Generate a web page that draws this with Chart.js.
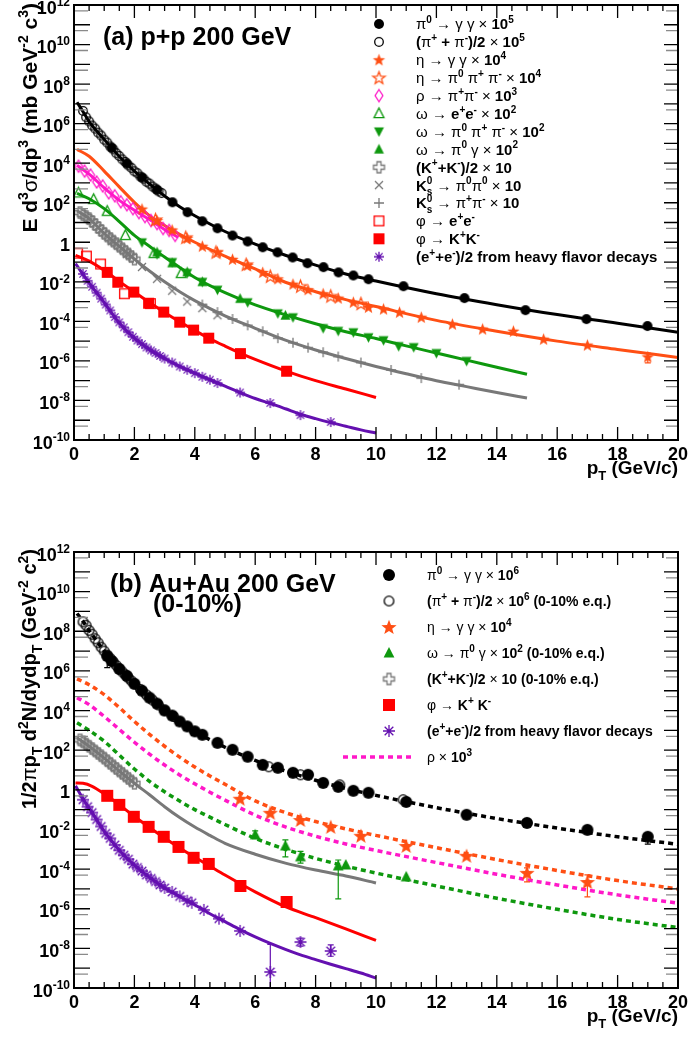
<!DOCTYPE html>
<html>
<head>
<meta charset="utf-8">
<script src="https://cdn.jsdelivr.net/npm/chart.js@4.4.0/dist/chart.umd.min.js"></script>
<style>
  body { margin: 0; background: #fff; }
  #wrap { position: relative; width: 692px; height: 1040px; }
  canvas { position: absolute; left: 0; }
</style>
</head>
<body>
<div id="wrap">
  <canvas id="pp" width="692" height="520" style="top:0"></canvas>
  <canvas id="au" width="692" height="520" style="top:520px"></canvas>
</div>
<script>
// ---------- (a) p+p 200 GeV ----------
const ppPiFitX = [0.1, 0.3, 0.5, 1, 1.5, 2, 2.5, 3, 3.5, 4, 5, 6, 7, 8, 9, 10, 12, 14, 16, 18, 20];
const ppPiFitY = [1.2e7, 4.0e6, 1.26e6, 1.6e5, 2.2e4, 4.0e3, 900, 220, 63, 22, 3.5, 0.8, 0.22, 0.07, 0.025, 0.011, 2.5e-3, 7.0e-4, 2.2e-4, 8.0e-5, 2.8e-5];
const ppPi0X = [1.25, 1.75, 2.25, 2.75, 3.26, 3.76, 4.25, 4.75, 5.25, 5.75, 6.25, 6.74, 7.24, 7.73, 8.26, 8.76, 9.25, 9.75, 10.91, 12.93, 14.95, 16.97, 18.99];
const ppPi0Y = [6.0e4, 9.5e3, 1.9e3, 450, 105, 33, 11.5, 5.1, 2.2, 1.1, 0.56, 0.31, 0.17, 0.087, 0.055, 0.030, 0.021, 0.0135, 6.0e-3, 1.5e-3, 3.7e-4, 1.3e-4, 5.8e-5];
const ppPipmX = [0.3, 0.4, 0.5, 0.6, 0.7, 0.8, 0.9, 1.0, 1.1, 1.2, 1.3, 1.4, 1.5, 1.6, 1.7, 1.8, 1.9, 2.0, 2.1, 2.2, 2.3, 2.4, 2.5, 2.6, 2.7, 2.8, 2.9];
const ppPipmY = [4.4e6, 2.1e6, 1.3e6, 8.0e5, 5.6e5, 3.5e5, 2.5e5, 1.55e5, 1.1e5, 7.0e4, 5.0e4, 3.2e4, 2.3e4, 1.55e4, 1.15e4, 7.8e3, 5.8e3, 3.9e3, 3.1e3, 2.1e3, 1.65e3, 1.15e3, 920, 660, 520, 380, 310];

const ppEtaFitX = [0.1, 0.5, 1, 1.5, 2, 2.5, 3, 3.5, 4, 5, 6, 7, 8, 9, 10, 12, 14, 16, 18, 20];
const ppEtaFitY = [5.0e4, 2.24e4, 3.98e3, 631, 105, 22.4, 7.08, 2.51, 1.0, 0.2, 0.0447, 9.5e-3, 3.16e-3, 1.26e-3, 5.6e-4, 1.12e-4, 3.16e-5, 1.0e-5, 3.8e-6, 1.5e-6];
const ppEtaX = [2.25, 2.75, 3.25, 3.75, 4.25, 4.75, 5.25, 5.75, 6.25, 6.75, 7.25, 7.75, 8.25, 8.75, 9.25, 9.75, 10.25, 10.78, 11.5, 12.53, 13.53, 14.55, 15.55, 17.0, 19.0];
const ppEtaY = [48, 12.6, 4.2, 1.6, 0.63, 0.32, 0.138, 0.069, 0.030, 0.0141, 7.6e-3, 4.0e-3, 2.5e-3, 1.5e-3, 9.3e-4, 5.2e-4, 4.2e-4, 2.9e-4, 1.62e-4, 7.2e-5, 4.1e-5, 3.2e-5, 1.26e-5, 6.3e-6, 1.6e-6];
const ppEtaLo = [null, null, null, null, null, null, null, null, null, null, null, null, null, null, null, null, null, null, null, null, null, null, null, null, 8.0e-7];
const ppEtaHi = [null, null, null, null, null, null, null, null, null, null, null, null, null, null, null, null, null, null, null, null, null, null, null, null, 2.5e-6];
const ppEta3piX = [2.7, 3.7, 4.7, 5.7, 6.5, 7.5, 8.5, 9.5];
const ppEta3piY = [14.1, 1.78, 0.316, 0.0759, 0.019, 6.03e-3, 1.91e-3, 7.94e-4];

const ppRhoFitX = [0.1, 0.5, 1, 1.5, 2, 2.5, 3, 3.45];
const ppRhoFitY = [7.8e3, 2.8e3, 562, 132, 41.7, 14.1, 4.47, 1.78];
const ppRhoX = [0.15, 0.35, 0.55, 0.75, 0.95, 1.15, 1.35, 1.55, 1.75, 1.95, 2.15, 2.35, 2.55, 2.75, 2.95, 3.15, 3.35];
const ppRhoY = [7080, 3980, 2510, 1120, 708, 316, 224, 112, 79.4, 50.1, 31.6, 20, 12.6, 8.9, 5.0, 3.98, 2.24];

const ppOmegaFitX = [0.1, 0.5, 1, 1.5, 2, 2.5, 3, 3.5, 4, 5, 6, 7, 8, 9, 10, 11, 12, 13, 14, 15];
const ppOmegaFitY = [295, 158, 50.1, 11.2, 2.24, 0.63, 0.178, 0.0537, 0.0166, 2.82e-3, 6.76e-4, 2.14e-4, 7.6e-5, 3.0e-5, 1.35e-5, 5.75e-6, 2.51e-6, 1.1e-6, 4.8e-7, 2.1e-7];
const ppOmegaEeX = [0.15, 0.65, 1.1, 1.7, 2.65, 3.55];
const ppOmegaEeY = [316, 148, 37.2, 2.24, 0.275, 0.0269];
const ppOmega3piX = [2.25, 2.75, 3.25, 3.75, 4.25, 4.75, 5.75, 6.75, 7.25, 8.25, 8.75, 9.25, 9.75, 10.25, 10.75, 11.25, 12.0, 13.0];
const ppOmega3piY = [1.0, 0.25, 0.1, 0.0282, 0.01, 3.98e-3, 9.3e-4, 2.57e-4, 1.62e-4, 4.57e-5, 3.31e-5, 2.82e-5, 1.58e-5, 1.12e-5, 5.6e-6, 5.0e-6, 2.51e-6, 1.0e-6];
const ppOmegaPgX = [2.75, 3.25, 3.75, 4.25, 5.5, 7.0];
const ppOmegaPgY = [0.316, 0.089, 0.0316, 0.01, 1.41e-3, 2.0e-4];

const ppKaonFitX = [0.1, 0.5, 1, 1.5, 2, 2.5, 3, 3.5, 4, 5, 6, 7, 8, 9, 10, 11, 12, 13, 14, 15];
const ppKaonFitY = [39.8, 15.8, 2.82, 0.63, 0.141, 0.0355, 0.01, 3.16e-3, 1.12e-3, 1.9e-4, 4.47e-5, 1.12e-5, 3.55e-6, 1.32e-6, 5.25e-7, 2.24e-7, 1.0e-7, 5.0e-8, 2.51e-8, 1.32e-8];
const ppKpmX = [0.2, 0.3, 0.4, 0.5, 0.6, 0.7, 0.8, 0.9, 1.0, 1.1, 1.2, 1.3, 1.4, 1.5, 1.6, 1.7, 1.8, 1.9, 2.0];
const ppKpmY = [31.6, 25.1, 20, 15.8, 11.2, 7.94, 5.62, 3.98, 2.82, 2.09, 1.55, 1.15, 0.85, 0.63, 0.468, 0.347, 0.257, 0.19, 0.141];
const ppKs00X = [1.25, 1.75, 2.25, 2.75, 3.25, 3.75, 4.25, 4.75];
const ppKs00Y = [1.12, 0.251, 0.0562, 0.0141, 3.55e-3, 1.0e-3, 4.68e-4, 2.04e-4];
const ppKsPmX = [4.25, 4.75, 5.25, 5.75, 6.25, 6.75, 7.25, 7.75, 8.25, 8.75, 9.5, 10.5, 11.5, 12.75];
const ppKsPmY = [7.08e-4, 2.95e-4, 1.32e-4, 6.31e-5, 3.16e-5, 1.41e-5, 8.3e-6, 4.68e-6, 2.75e-6, 1.66e-6, 8.3e-7, 3.47e-7, 1.35e-7, 6.31e-8];

const ppPhiFitX = [0.05, 0.5, 1.1, 1.5, 2, 2.5, 3, 3.5, 4, 4.5, 5, 5.5, 6, 7, 8, 9, 10];
const ppPhiFitY = [0.219, 0.112, 0.0302, 0.0105, 3.02e-3, 8.9e-4, 2.82e-4, 9.55e-5, 3.47e-5, 1.32e-5, 5.62e-6, 2.51e-6, 1.2e-6, 3.16e-7, 1.0e-7, 3.8e-8, 1.41e-8];
const ppPhiKKX = [1.1, 1.45, 1.98, 2.47, 2.97, 3.5, 3.96, 4.46, 5.51, 7.04];
const ppPhiKKY = [0.0302, 9.55e-3, 3.02e-3, 8.3e-4, 2.95e-4, 9.1e-5, 3.63e-5, 1.41e-5, 2.34e-6, 3.02e-7];
const ppPhiEeX = [0.12, 0.41, 0.88, 1.67, 2.53];
const ppPhiEeY = [0.282, 0.2, 0.0794, 2.51e-3, 7.94e-4];

const ppHfFitX = [0.05, 0.5, 1, 1.5, 2, 2.5, 3, 3.5, 4, 4.5, 5, 5.5, 6, 6.5, 7, 7.5, 8, 8.5, 9, 9.5, 10];
const ppHfFitY = [0.0832, 8.9e-3, 8.9e-4, 8.3e-5, 1.41e-5, 3.8e-6, 1.32e-6, 5.25e-7, 2.4e-7, 1.12e-7, 5.25e-8, 2.51e-8, 1.26e-8, 7.08e-9, 3.8e-9, 2.0e-9, 1.2e-9, 7.59e-10, 5.0e-10, 3.24e-10, 2.24e-10];
const ppHfX = [0.3, 0.45, 0.6, 0.75, 0.9, 1.05, 1.2, 1.35, 1.5, 1.65, 1.8, 1.95, 2.1, 2.25, 2.4, 2.55, 2.7, 2.85, 3.0, 3.25, 3.5, 3.75, 4.0, 4.25, 4.5, 4.75, 5.5, 6.5, 7.5, 8.5];
const ppHfY = [0.0251, 0.0112, 5.62e-3, 2.82e-3, 1.41e-3, 7.08e-4, 3.55e-4, 1.66e-4, 8.9e-5, 5.0e-5, 2.82e-5, 1.66e-5, 1.07e-5, 7.08e-6, 4.79e-6, 3.39e-6, 2.51e-6, 1.78e-6, 1.32e-6, 8.3e-7, 5.25e-7, 3.55e-7, 2.4e-7, 1.58e-7, 1.12e-7, 7.59e-8, 2.51e-8, 7.41e-9, 1.82e-9, 8.1e-10];

// ---------- (b) Au+Au 200 GeV (0-10%) ----------
const auPiFitX = [0.1, 0.3, 0.5, 1, 1.5, 2, 2.5, 3, 3.5, 4, 5, 6, 7, 8, 9, 10, 12, 14, 16, 18, 20];
const auPiFitY = [7.94e8, 3.16e8, 1.12e8, 1.0e7, 1.26e6, 2.24e5, 4.47e4, 1.07e4, 2.95e3, 891, 141, 30.2, 8.91, 3.02, 1.17, 0.525, 0.126, 0.0355, 0.0117, 4.27e-3, 1.78e-3];
const auPi0X = [1.1, 1.25, 1.5, 1.75, 2.0, 2.25, 2.5, 2.75, 3.0, 3.25, 3.5, 3.75, 4.0, 4.25, 4.75, 5.25, 5.75, 6.25, 6.75, 7.25, 7.75, 8.25, 8.75, 9.25, 9.75, 11.0, 13.0, 15.0, 17.0, 19.0];
const auPi0Y = [5.6e6, 3.16e6, 1.26e6, 5.62e5, 2.24e5, 1.0e5, 4.47e4, 2.24e4, 1.0e4, 5.62e3, 2.82e3, 1.58e3, 891, 600, 234, 105, 46.8, 18.2, 12.9, 7.24, 5.75, 2.24, 1.41, 0.891, 0.708, 0.245, 0.055, 0.0214, 9.55e-3, 4.27e-3];
const auPi0Lo = [1.45e6, null, null, null, null, null, null, null, null, null, null, null, null, null, null, null, null, null, null, null, null, null, null, null, null, null, null, null, null, 1.8e-3];
const auPi0Hi = [8.3e6, null, null, null, null, null, null, null, null, null, null, null, null, null, null, null, null, null, null, null, null, null, null, null, null, null, null, null, null, 6.3e-3];
const auPipmX = [0.3, 0.4, 0.5, 0.6, 0.7, 0.8, 0.9, 1.0, 1.1, 1.2, 1.3, 1.4, 1.5, 1.6, 1.7, 1.8, 1.9, 2.0, 2.2, 2.4, 2.6, 2.8, 3.0, 3.3, 6.45, 7.5, 8.8, 10.9];
const auPipmY = [3.0e8, 2.0e8, 1.12e8, 7.08e7, 4.17e7, 2.63e7, 1.58e7, 1.0e7, 6.31e6, 4.27e6, 2.82e6, 1.91e6, 1.26e6, 8.9e5, 6.31e5, 4.47e5, 3.16e5, 2.24e5, 1.17e5, 6.17e4, 3.39e4, 1.91e4, 1.07e4, 5.01e3, 14.5, 5.75, 1.78, 0.316];

const auFitX = [0.1, 0.5, 1, 1.5, 2, 2.5, 3, 3.5, 4, 4.5, 5, 6, 7, 8, 9, 10, 12, 14, 16, 18, 20];
const auEtaFitY = [3.98e5, 2.0e5, 6.31e4, 1.41e4, 2.82e3, 631, 158, 44.7, 14.1, 5.01, 1.91, 0.275, 0.0708, 0.0251, 0.0107, 5.01e-3, 1.2e-3, 3.02e-4, 8.51e-5, 2.63e-5, 1.0e-5];
const auRhoFitY = [4.47e4, 2.0e4, 5.01e3, 1.12e3, 251, 63.1, 17.8, 5.62, 2.0, 0.759, 0.302, 0.0525, 0.0135, 4.57e-3, 1.86e-3, 8.71e-4, 2.14e-4, 5.5e-5, 1.58e-5, 5.01e-6, 1.91e-6];
const auOmegaFitY = [2.4e3, 1.0e3, 282, 56.2, 11.2, 2.69, 0.794, 0.269, 0.1, 0.0417, 0.0178, 3.55e-3, 1.0e-3, 3.47e-4, 1.41e-4, 6.31e-5, 1.41e-5, 3.39e-6, 9.33e-7, 2.88e-7, 1.12e-7];
const auEtaX = [5.5, 6.5, 7.5, 8.5, 9.5, 11, 13, 15, 17];
const auEtaY = [0.355, 0.0692, 0.0302, 0.0135, 4.79e-3, 1.48e-3, 4.68e-4, 6.46e-5, 2.24e-5];
const auEtaLo = [null, null, null, null, null, null, null, 2.24e-5, 4.0e-6];
const auEtaHi = [null, null, null, null, null, null, null, 1.15e-4, 5.1e-5];
const auOmegaX = [6.0, 7.0, 7.5, 8.75, 9.0, 11.0];
const auOmegaY = [5.37e-3, 1.48e-3, 4.17e-4, 1.45e-4, 1.62e-4, 4.07e-5];
const auOmegaLo = [3.4e-3, 4.17e-4, 2.0e-4, 3.16e-6, null, null];
const auOmegaHi = [8.5e-3, 2.95e-3, 7.9e-4, 2.88e-4, null, null];

const auKaonFitX = [0.1, 0.5, 1, 1.5, 2, 2.5, 3, 3.5, 4, 4.5, 5, 6, 7, 8, 9, 10];
const auKaonFitY = [427, 158, 39.8, 8.91, 2.14, 0.562, 0.141, 0.0398, 0.0132, 5.01e-3, 2.0e-3, 5.62e-4, 2.0e-4, 8.91e-5, 4.47e-5, 2.0e-5];
const auKpmX = [0.2, 0.3, 0.4, 0.5, 0.6, 0.7, 0.8, 0.9, 1.0, 1.1, 1.2, 1.3, 1.4, 1.5, 1.6, 1.7, 1.8, 1.9, 2.0];
const auKpmY = [331, 263, 204, 158, 120, 91.2, 69.2, 52.5, 39.8, 29.5, 21.9, 16.2, 12.0, 8.91, 6.76, 5.01, 3.8, 2.82, 2.14];

const auPhiFitX = [0.05, 0.3, 0.6, 1, 1.5, 2, 2.5, 3, 3.5, 4, 4.5, 5, 6, 7, 8, 9, 10];
const auPhiFitY = [2.24, 2.14, 1.51, 0.631, 0.178, 0.0447, 0.0126, 3.72e-3, 1.17e-3, 3.98e-4, 1.41e-4, 5.01e-5, 7.08e-6, 1.26e-6, 3.55e-7, 9.55e-8, 2.51e-8];
const auPhiX = [1.1, 1.5, 1.98, 2.47, 2.97, 3.46, 3.96, 4.46, 5.51, 7.04];
const auPhiY = [0.501, 0.174, 0.0437, 0.0135, 4.27e-3, 1.32e-3, 3.72e-4, 1.82e-4, 1.41e-5, 2.19e-6];

const auHfFitX = [0.05, 0.3, 0.6, 1, 1.5, 2, 2.5, 3, 3.5, 4, 4.5, 5, 5.5, 6, 6.5, 7, 7.5, 8, 8.5, 9, 9.5, 10];
const auHfFitY = [1.58, 0.355, 0.0708, 7.94e-3, 8.91e-4, 1.58e-4, 3.8e-5, 1.12e-5, 4.17e-6, 1.58e-6, 5.62e-7, 2.24e-7, 8.91e-8, 3.8e-8, 1.78e-8, 8.91e-9, 4.68e-9, 2.69e-9, 1.58e-9, 9.55e-10, 5.75e-10, 3.16e-10];
const auHfX = [0.3, 0.45, 0.6, 0.75, 0.9, 1.05, 1.2, 1.35, 1.5, 1.65, 1.8, 1.95, 2.1, 2.25, 2.4, 2.55, 2.7, 2.85, 3.0, 3.25, 3.5, 3.75, 3.9, 4.3, 4.8, 5.5, 6.5, 7.5, 8.5];
const auHfY = [0.316, 0.141, 0.0708, 0.0316, 0.0141, 6.31e-3, 3.55e-3, 1.66e-3, 8.91e-4, 5.01e-4, 3.16e-4, 1.78e-4, 1.2e-4, 7.94e-5, 5.01e-5, 3.39e-5, 2.34e-5, 1.58e-5, 1.12e-5, 7.08e-6, 4.17e-6, 2.51e-6, 2.0e-6, 8.71e-7, 3.16e-7, 7.59e-8, 6.46e-10, 2.09e-8, 7.41e-9];
const auHfLo = [null, null, null, null, null, null, null, null, null, null, null, null, null, null, null, null, null, null, null, null, null, null, null, null, null, null, 1e-11, 1.3e-8, 4.0e-9];
const auHfHi = [null, null, null, null, null, null, null, null, null, null, null, null, null, null, null, null, null, null, null, null, null, null, null, null, null, null, 1.58e-8, 3.3e-8, 1.5e-8];

// ---------- styles ----------
const FONT = '"Liberation Sans", Arial, Helvetica, sans-serif';
const THIN = 'πγηρωφσ→×';
const BLACK = '#000000', ORANGE = '#ff4f14', MAGENTA = '#ff18c8', GREEN = '#0e980e',
      GRAY = '#787878', RED = '#ff0000', PURPLE = '#6410b0';

function makeMarker(kind, color, size) {
  const s = Math.ceil(size + 4);
  const c = document.createElement('canvas');
  c.width = s; c.height = s;
  const g = c.getContext('2d');
  const m = s / 2, r = size / 2;
  g.fillStyle = color; g.strokeStyle = color; g.lineWidth = 1.3;
  g.beginPath();
  if (kind === 'circle') { g.arc(m, m, r, 0, 2 * Math.PI); g.fill(); }
  else if (kind === 'ocircle') { g.arc(m, m, r - 0.7, 0, 2 * Math.PI); g.stroke(); }
  else if (kind === 'square') { g.fillRect(m - r, m - r, size, size); }
  else if (kind === 'osquare') { g.strokeRect(m - r + 0.7, m - r + 0.7, size - 1.4, size - 1.4); }
  else if (kind === 'star' || kind === 'ostar') {
    for (let i = 0; i < 10; i++) {
      const a = -Math.PI / 2 + i * Math.PI / 5, rr = i % 2 ? r * 0.42 : r;
      g.lineTo(m + rr * Math.cos(a), m + rr * Math.sin(a) + r * 0.08);
    }
    g.closePath();
    if (kind === 'star') g.fill(); else g.stroke();
  } else if (kind === 'tri' || kind === 'otri') {
    g.moveTo(m, m - r); g.lineTo(m + r * 0.9, m + r * 0.75); g.lineTo(m - r * 0.9, m + r * 0.75); g.closePath();
    if (kind === 'tri') g.fill(); else g.stroke();
  } else if (kind === 'tridown') {
    g.moveTo(m - r * 0.9, m - r * 0.75); g.lineTo(m + r * 0.9, m - r * 0.75); g.lineTo(m, m + r); g.closePath(); g.fill();
  } else if (kind === 'odiamond') {
    g.moveTo(m, m - r); g.lineTo(m + r * 0.65, m); g.lineTo(m, m + r); g.lineTo(m - r * 0.65, m); g.closePath(); g.stroke();
  } else if (kind === 'ocross') {
    const w = r * 0.36;
    g.moveTo(m - w, m - r); g.lineTo(m + w, m - r); g.lineTo(m + w, m - w); g.lineTo(m + r, m - w);
    g.lineTo(m + r, m + w); g.lineTo(m + w, m + w); g.lineTo(m + w, m + r); g.lineTo(m - w, m + r);
    g.lineTo(m - w, m + w); g.lineTo(m - r, m + w); g.lineTo(m - r, m - w); g.lineTo(m - w, m - w);
    g.closePath(); g.stroke();
  } else if (kind === 'x') {
    const d = r * 0.8;
    g.moveTo(m - d, m - d); g.lineTo(m + d, m + d); g.moveTo(m + d, m - d); g.lineTo(m - d, m + d); g.stroke();
  } else if (kind === 'plus') {
    g.moveTo(m - r, m); g.lineTo(m + r, m); g.moveTo(m, m - r); g.lineTo(m, m + r); g.stroke();
  } else if (kind === 'aster') {
    const d = r * 0.72;
    g.moveTo(m - r, m); g.lineTo(m + r, m); g.moveTo(m, m - r); g.lineTo(m, m + r);
    g.moveTo(m - d, m - d); g.lineTo(m + d, m + d); g.moveTo(m + d, m - d); g.lineTo(m - d, m + d); g.stroke();
  }
  return c;
}

function pts(xs, ys) { return xs.map((x, i) => ({ x: x, y: ys[i] })); }

function curve(xs, ys, color, dashed) {
  return {
    data: pts(xs, ys), showLine: true, borderColor: color, borderWidth: dashed ? 3.5 : 3,
    borderDash: dashed ? [5, 4] : [], pointRadius: 0, pointHoverRadius: 0,
    cubicInterpolationMode: 'monotone', fill: false, order: 2
  };
}

function marks(xs, ys, img, color, lo, hi) {
  return {
    data: pts(xs, ys), showLine: false, pointStyle: img, pointRadius: 4,
    borderColor: color, backgroundColor: color, order: 1, errLo: lo, errHi: hi
  };
}

// ---------- rich text (superscripts / subscripts) ----------
function parseRich(str) {
  const toks = [];
  let i = 0, buf = '';
  while (i < str.length) {
    const c = str[i];
    if ((c === '^' || c === '_') && str[i + 1] === '{') {
      if (buf) { toks.push({ k: 'n', s: buf }); buf = ''; }
      const j = str.indexOf('}', i);
      toks.push({ k: c === '^' ? 'sup' : 'sub', s: str.slice(i + 2, j) });
      i = j + 1;
    } else { buf += c; i++; }
  }
  if (buf) toks.push({ k: 'n', s: buf });
  return toks;
}

function runs(text) {
  const out = [];
  for (const ch of text) {
    const b = !THIN.includes(ch);
    if (out.length && out[out.length - 1].b === b) out[out.length - 1].s += ch;
    else out.push({ s: ch, b: b });
  }
  return out;
}

function drawRich(ctx, str, x, y, size, align, color) {
  const toks = parseRich(str);
  const ops = [];
  let cx = 0, supStart = 0;
  toks.forEach((t, i) => {
    const sz = t.k === 'n' ? size : Math.round(size * 0.68);
    const dy = t.k === 'sup' ? -size * 0.42 : (t.k === 'sub' ? size * 0.3 : 0);
    let start = cx;
    if (t.k === 'sub' && i > 0 && toks[i - 1].k === 'sup') start = supStart;
    let px = start;
    runs(t.s).forEach(r => {
      const f = (r.b ? 'bold ' : '') + sz + 'px ' + FONT;
      ctx.font = f;
      ops.push({ s: r.s, f: f, x: px, dy: dy });
      px += ctx.measureText(r.s).width;
    });
    if (t.k === 'sup') supStart = start;
    cx = Math.max(cx, px);
  });
  const x0 = align === 'right' ? x - cx : (align === 'center' ? x - cx / 2 : x);
  ctx.fillStyle = color || '#000';
  ctx.textAlign = 'left';
  ctx.textBaseline = 'alphabetic';
  ops.forEach(o => { ctx.font = o.f; ctx.fillText(o.s, x0 + o.x, y + o.dy); });
}

// ---------- plugins ----------
const errorBars = {
  id: 'errorBars',
  afterDatasetsDraw(chart) {
    const { ctx, chartArea: a, scales: { x, y } } = chart;
    ctx.save();
    ctx.beginPath(); ctx.rect(a.left, a.top, a.right - a.left, a.bottom - a.top); ctx.clip();
    chart.data.datasets.forEach(ds => {
      if (!ds.errLo) return;
      ctx.strokeStyle = ds.borderColor; ctx.lineWidth = 1.2;
      ds.data.forEach((p, i) => {
        if (ds.errLo[i] == null) return;
        const px = x.getPixelForValue(p.x);
        const y1 = y.getPixelForValue(ds.errLo[i]), y2 = y.getPixelForValue(ds.errHi[i]);
        ctx.beginPath();
        ctx.moveTo(px, y1); ctx.lineTo(px, y2);
        ctx.moveTo(px - 3, y1); ctx.lineTo(px + 3, y1);
        ctx.moveTo(px - 3, y2); ctx.lineTo(px + 3, y2);
        ctx.stroke();
      });
    });
    ctx.restore();
  }
};

function framePlugin(deco) {
  return {
    id: 'frame',
    afterDraw(chart) {
      const { ctx, chartArea: a, scales: { x, y } } = chart;
      ctx.save();
      ctx.lineCap = 'butt';
      // x ticks (bottom and top)
      for (let i = 0; i <= 40; i++) {
        const v = i / 2, px = x.getPixelForValue(v);
        const len = i % 4 === 0 ? 13 : 6;
        ctx.strokeStyle = '#000'; ctx.lineWidth = 1.3;
        ctx.beginPath();
        ctx.moveTo(px, a.bottom); ctx.lineTo(px, a.bottom - len);
        ctx.moveTo(px, a.top); ctx.lineTo(px, a.top + len);
        ctx.stroke();
      }
      // y ticks (left and right)
      for (let e = -10; e <= 12; e++) {
        const py = y.getPixelForValue(Math.pow(10, e));
        ctx.strokeStyle = '#000'; ctx.lineWidth = 1.3;
        ctx.beginPath();
        ctx.moveTo(a.left, py); ctx.lineTo(a.left + 16, py);
        ctx.moveTo(a.right, py); ctx.lineTo(a.right - 14, py);
        ctx.stroke();
        if (e > -10) {
          const ph = y.getPixelForValue(5 * Math.pow(10, e - 1));
          ctx.strokeStyle = '#8a8a8a';
          ctx.beginPath();
          ctx.moveTo(a.left, ph); ctx.lineTo(a.left + 14, ph);
          ctx.moveTo(a.right, ph); ctx.lineTo(a.right - 12, ph);
          ctx.stroke();
        }
      }
      // frame
      ctx.strokeStyle = '#000'; ctx.lineWidth = 2;
      ctx.strokeRect(a.left, a.top, a.right - a.left, a.bottom - a.top);
      // y labels
      for (let e = -10; e <= 12; e += 2) {
        const py = y.getPixelForValue(Math.pow(10, e));
        drawRich(ctx, e === 0 ? '1' : '10^{' + e + '}', a.left - 4, py + 8.5, 18, 'right');
      }
      // x labels
      for (let v = 0; v <= 20; v += 2) {
        drawRich(ctx, String(v), x.getPixelForValue(v), a.bottom + 20, 18, 'center');
      }
      // axis titles
      drawRich(ctx, 'p_{T} (GeV/c)', a.right, a.bottom + 34, 19, 'right');
      ctx.save();
      ctx.translate(deco.yTitleX, deco.yTitleTop);
      ctx.rotate(-Math.PI / 2);
      drawRich(ctx, deco.yTitle, 0, 0, deco.yTitleSize, 'right');
      ctx.restore();
      // panel label
      deco.labels.forEach(l => drawRich(ctx, l.t, l.x, l.y, l.size, 'left'));
      // legend
      deco.legend.forEach((it, i) => {
        const ry = deco.legY + i * deco.legDy;
        if (it.dash) {
          ctx.strokeStyle = it.dash; ctx.lineWidth = 3.5; ctx.setLineDash([5, 4]);
          ctx.beginPath(); ctx.moveTo(deco.legDashX0, ry); ctx.lineTo(deco.legDashX1, ry); ctx.stroke();
          ctx.setLineDash([]);
        } else {
          ctx.drawImage(it.m, deco.legMarkX - it.m.width / 2, ry - it.m.height / 2);
        }
        drawRich(ctx, it.t, deco.legTextX, ry + deco.legSize * 0.36, deco.legSize, 'left');
      });
      ctx.restore();
    }
  };
}

function build(id, datasets, padding, deco) {
  return new Chart(document.getElementById(id), {
    type: 'scatter',
    data: { datasets: datasets },
    options: {
      responsive: false, animation: false, devicePixelRatio: 1,
      layout: { padding: padding },
      plugins: { legend: { display: false }, tooltip: { enabled: false } },
      events: [],
      scales: {
        x: { type: 'linear', min: 0, max: 20, display: false },
        y: { type: 'logarithmic', min: 1e-10, max: 1e12, display: false }
      }
    },
    plugins: [errorBars, framePlugin(deco)]
  });
}

// ---------- panel (a) ----------
const mA = {
  pi0: makeMarker('circle', BLACK, 10), pipm: makeMarker('ocircle', BLACK, 10),
  eta: makeMarker('star', ORANGE, 13), eta3: makeMarker('ostar', ORANGE, 13),
  rho: makeMarker('odiamond', MAGENTA, 12), omee: makeMarker('otri', GREEN, 11),
  om3: makeMarker('tridown', GREEN, 11), ompg: makeMarker('tri', GREEN, 11),
  kpm: makeMarker('ocross', GRAY, 11), ks00: makeMarker('x', GRAY, 10), kspm: makeMarker('plus', GRAY, 10),
  phee: makeMarker('osquare', RED, 11), phkk: makeMarker('square', RED, 11), hf: makeMarker('aster', PURPLE, 10)
};

build('pp', [
  curve(ppPiFitX, ppPiFitY, BLACK),
  curve(ppEtaFitX, ppEtaFitY, ORANGE),
  curve(ppRhoFitX, ppRhoFitY, MAGENTA),
  curve(ppOmegaFitX, ppOmegaFitY, GREEN),
  curve(ppKaonFitX, ppKaonFitY, GRAY),
  curve(ppPhiFitX, ppPhiFitY, RED),
  curve(ppHfFitX, ppHfFitY, PURPLE),
  marks(ppPipmX, ppPipmY, mA.pipm, BLACK),
  marks(ppPi0X, ppPi0Y, mA.pi0, BLACK),
  marks(ppEta3piX, ppEta3piY, mA.eta3, ORANGE),
  marks(ppEtaX, ppEtaY, mA.eta, ORANGE, ppEtaLo, ppEtaHi),
  marks(ppRhoX, ppRhoY, mA.rho, MAGENTA),
  marks(ppOmegaEeX, ppOmegaEeY, mA.omee, GREEN),
  marks(ppOmegaPgX, ppOmegaPgY, mA.ompg, GREEN),
  marks(ppOmega3piX, ppOmega3piY, mA.om3, GREEN),
  marks(ppKpmX, ppKpmY, mA.kpm, GRAY),
  marks(ppKs00X, ppKs00Y, mA.ks00, GRAY),
  marks(ppKsPmX, ppKsPmY, mA.kspm, GRAY),
  marks(ppPhiEeX, ppPhiEeY, mA.phee, RED),
  marks(ppPhiKKX, ppPhiKKY, mA.phkk, RED),
  marks(ppHfX, ppHfY, mA.hf, PURPLE)
], { left: 74, top: 4, right: 14, bottom: 80 }, {
  yTitle: 'E d^{3}σ/dp^{3} (mb GeV^{-2} c^{3})', yTitleX: 37, yTitleTop: 3, yTitleSize: 21,
  labels: [{ t: '(a) p+p 200 GeV', x: 103, y: 45, size: 25 }],
  legY: 24, legDy: 17.9, legMarkX: 379, legTextX: 416, legSize: 15,
  legend: [
    { m: mA.pi0, t: 'π^{0} → γ γ × 10^{5}' },
    { m: mA.pipm, t: '(π^{+} + π^{-})/2 × 10^{5}' },
    { m: mA.eta, t: 'η → γ γ × 10^{4}' },
    { m: mA.eta3, t: 'η → π^{0} π^{+} π^{-} × 10^{4}' },
    { m: mA.rho, t: 'ρ → π^{+}π^{-} × 10^{3}' },
    { m: mA.omee, t: 'ω → e^{+}e^{-} × 10^{2}' },
    { m: mA.om3, t: 'ω → π^{0} π^{+} π^{-} × 10^{2}' },
    { m: mA.ompg, t: 'ω → π^{0} γ × 10^{2}' },
    { m: mA.kpm, t: '(K^{+}+K^{-})/2 × 10' },
    { m: mA.ks00, t: 'K^{0}_{s} → π^{0}π^{0} × 10' },
    { m: mA.kspm, t: 'K^{0}_{s} → π^{+}π^{-} × 10' },
    { m: mA.phee, t: 'φ → e^{+}e^{-}' },
    { m: mA.phkk, t: 'φ → K^{+}K^{-}' },
    { m: mA.hf, t: '(e^{+}+e^{-})/2 from heavy flavor decays' }
  ]
});

// ---------- panel (b) ----------
const mB = {
  pi0: makeMarker('circle', BLACK, 12), pipm: makeMarker('ocircle', BLACK, 11),
  eta: makeMarker('star', ORANGE, 16), om: makeMarker('tri', GREEN, 12),
  kpm: makeMarker('ocross', GRAY, 11), phi: makeMarker('square', RED, 12), hf: makeMarker('aster', PURPLE, 12)
};

build('au', [
  curve(auPiFitX, auPiFitY, BLACK, true),
  curve(auFitX, auEtaFitY, ORANGE, true),
  curve(auFitX, auRhoFitY, MAGENTA, true),
  curve(auFitX, auOmegaFitY, GREEN, true),
  curve(auKaonFitX, auKaonFitY, GRAY),
  curve(auPhiFitX, auPhiFitY, RED),
  curve(auHfFitX, auHfFitY, PURPLE),
  marks(auPipmX, auPipmY, mB.pipm, BLACK),
  marks(auPi0X, auPi0Y, mB.pi0, BLACK, auPi0Lo, auPi0Hi),
  marks(auEtaX, auEtaY, mB.eta, ORANGE, auEtaLo, auEtaHi),
  marks(auOmegaX, auOmegaY, mB.om, GREEN, auOmegaLo, auOmegaHi),
  marks(auKpmX, auKpmY, mB.kpm, GRAY),
  marks(auPhiX, auPhiY, mB.phi, RED),
  marks(auHfX, auHfY, mB.hf, PURPLE, auHfLo, auHfHi)
], { left: 74, top: 32, right: 14, bottom: 52 }, {
  yTitle: '1/2πp_{T} d^{2}N/dydp_{T} (GeV^{-2} c^{2})', yTitleX: 36, yTitleTop: 29, yTitleSize: 20,
  labels: [
    { t: '(b) Au+Au 200 GeV', x: 110, y: 72, size: 25 },
    { t: '(0-10%)', x: 153, y: 92, size: 25 }
  ],
  legY: 55, legDy: 26, legMarkX: 389, legTextX: 427, legSize: 14, legDashX0: 343, legDashX1: 415,
  legend: [
    { m: mB.pi0, t: 'π^{0} → γ γ × 10^{6}' },
    { m: mB.pipm, t: '(π^{+} + π^{-})/2 × 10^{6} (0-10% e.q.)' },
    { m: mB.eta, t: 'η → γ γ × 10^{4}' },
    { m: mB.om, t: 'ω → π^{0} γ × 10^{2} (0-10% e.q.)' },
    { m: mB.kpm, t: '(K^{+}+K^{-})/2 × 10 (0-10% e.q.)' },
    { m: mB.phi, t: 'φ → K^{+} K^{-}' },
    { m: mB.hf, t: '(e^{+}+e^{-})/2 from heavy flavor decays' },
    { dash: MAGENTA, t: 'ρ × 10^{3}' }
  ]
});
</script>
</body>
</html>
